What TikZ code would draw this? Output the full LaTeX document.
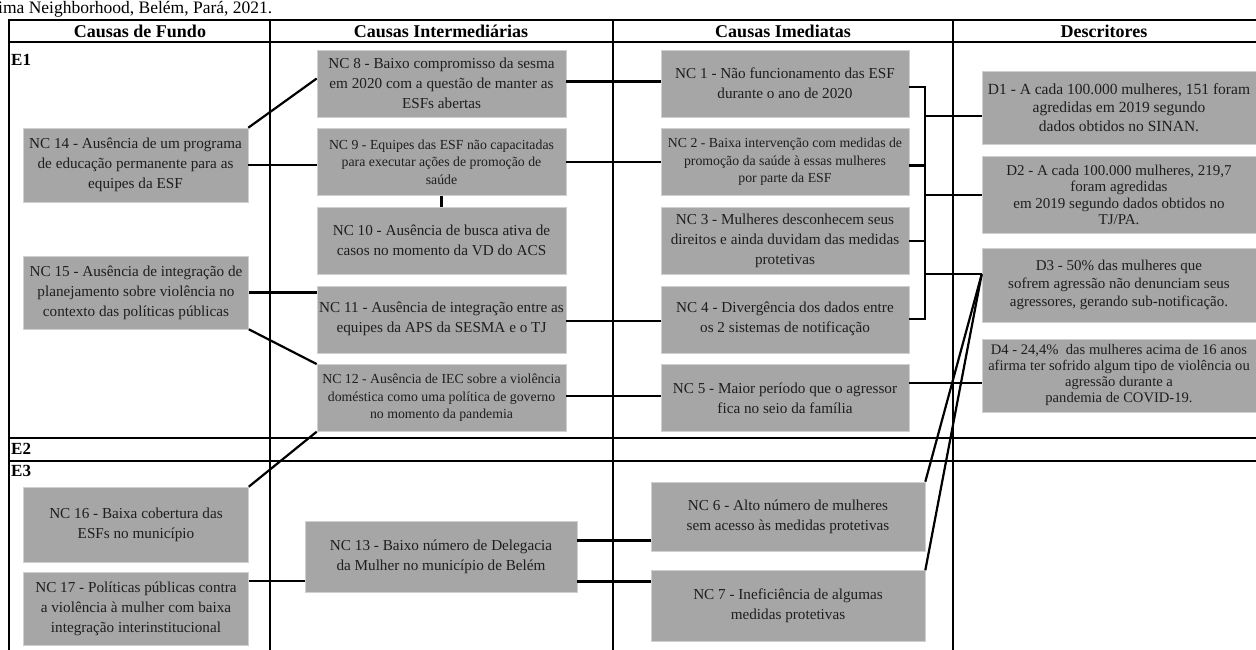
\documentclass[tikz,border=0pt]{standalone}
\usepackage{fontspec}
\setmainfont{Liberation Serif}
\usepackage{tikz}
\usetikzlibrary{
  positioning,
  calc
}
\usepackage{xcolor}
\definecolor{cinzacaixa}{RGB}{166,166,166}
\definecolor{bordacaixa}{RGB}{208,208,208}
\definecolor{textocaixa}{RGB}{30,30,30}
\tikzset{
  caixa/.style={
    fill=cinzacaixa, draw=bordacaixa, line width=0.6pt,
    inner sep=0pt, align=center, text=textocaixa,
    font=\fontsize{15.2}{20}\selectfont
  },
  caixa menor/.style={
    font=\fontsize{13.8}{17.5}\selectfont
  },
  caixa estreita/.style={
    font=\fontsize{15.2}{20}\selectfont
  },
  fundo/.style={caixa, minimum width=225pt},
  interm/.style={caixa, minimum width=249pt, minimum height=67pt},
  imed/.style={caixa, minimum width=248pt, minimum height=67pt},
  descritor/.style={caixa, minimum width=274pt},
  conector/.style={
    line width=2.2pt, draw=black
  },
  grade/.style={
    line width=2.6pt, draw=black
  },
  cabecalho/.style={
    font=\fontsize{18}{20}\selectfont\bfseries, inner sep=0pt
  },
  etapa/.style={
    anchor=west, font=\fontsize{17}{18}\selectfont\bfseries, inner sep=0pt
  },
}

\begin{document}
\begin{tikzpicture}[x=1pt, y=-1pt, node distance=11pt]

  \useasboundingbox (0,0) rectangle (1256,650);

  % legenda cortada no topo
  \node[anchor=base west, inner sep=0pt, font=\fontsize{17.5}{20}\selectfont]
    (titulo) at (-2,14) {ima Neighborhood, Belém, Pará, 2021.};

  % grade da tabela
  \draw[grade] (8,20) -- (1256,20);
  \draw[grade] (8,42) -- (1256,42);
  \draw[grade] (8,438) -- (1256,438);
  \draw[grade] (8,461) -- (1256,461);
  \foreach \x in {9,270,613,953}
    \draw[grade] (\x,20) -- (\x,650);

  \node[cabecalho] (hfundo)  at (140,31)  {Causas de Fundo};
  \node[cabecalho] (hinterm) at (441,31)  {Causas Intermediárias};
  \node[cabecalho] (himed)   at (783,31)  {Causas Imediatas};
  \node[cabecalho] (hdesc)   at (1104,31) {Descritores};

  \node[etapa] (e1) at (11,60)  {E1};
  \node[etapa] (e2) at (11,449) {E2};
  \node[etapa] (e3) at (11,471) {E3};

  % causas de fundo
  \node[fundo, minimum height=74pt] (NC14) at (135.5,165)
    {NC 14 - Ausência de um programa\\de educação permanente para as\\equipes da ESF};
  \node[fundo, minimum height=73pt] (NC15) at (136,292.5)
    {NC 15 - Ausência de integração de\\planejamento sobre violência no\\contexto das políticas públicas};
  \node[fundo, caixa estreita, minimum height=75pt] (NC16) at (136,524.5)
    {NC 16 - Baixa cobertura das\\ESFs no município};
  \node[fundo, caixa estreita, minimum height=73pt, below=10pt of NC16] (NC17)
    {NC 17 - Políticas públicas contra\\a violência à mulher com baixa\\integração interinstitucional};

  % causas intermediarias
  \node[interm] (NC8) at (441.5,83.5)
    {NC 8 - Baixo compromisso da sesma\\em 2020 com a questão de manter as\\ESFs abertas};
  \node[interm, caixa menor, below=of NC8] (NC9)
    {NC 9 - Equipes das ESF não capacitadas\\para executar ações de promoção de\\saúde};
  \node[interm, below=of NC9] (NC10)
    {NC 10 - Ausência de busca ativa de\\casos no momento da VD do ACS};
  \node[interm, below=of NC10] (NC11)
    {NC 11 - Ausência de integração entre as\\equipes da APS da SESMA e o TJ};
  \node[interm, caixa menor, below=of NC11] (NC12)
    {NC 12 - Ausência de IEC sobre a violência\\doméstica como uma política de governo\\no momento da pandemia};
  \node[caixa, caixa estreita, minimum width=272pt, minimum height=71pt] (NC13) at (441,556.5)
    {NC 13 - Baixo número de Delegacia\\da Mulher no município de Belém};

  % causas imediatas
  \node[imed] (NC1) at (785,83.5)
    {NC 1 - Não funcionamento das ESF\\durante o ano de 2020};
  \node[imed, caixa menor, below=of NC1] (NC2)
    {NC 2 - Baixa intervenção com medidas de\\promoção da saúde à essas mulheres\\por parte da ESF};
  \node[imed, below=of NC2] (NC3)
    {NC 3 - Mulheres desconhecem seus\\direitos e ainda duvidam das medidas\\protetivas};
  \node[imed, below=of NC3] (NC4)
    {NC 4 - Divergência dos dados entre\\os 2 sistemas de notificação};
  \node[imed, below=of NC4] (NC5)
    {NC 5 - Maior período que o agressor\\fica no seio da família};
  \node[caixa, caixa estreita, minimum width=274pt, minimum height=69pt] (NC6) at (788,516.5)
    {NC 6 - Alto número de mulheres\\sem acesso às medidas protetivas};
  \node[caixa, caixa estreita, minimum width=274pt, minimum height=71pt, below=19pt of NC6] (NC7)
    {NC 7 - Ineficiência de algumas\\medidas protetivas};

  % descritores
  \node[descritor, minimum height=73pt,
        font=\fontsize{15.5}{18.5}\selectfont] (D1) at (1119,107.5)
    {D1 - A cada 100.000 mulheres, 151 foram\\agredidas em 2019 segundo\\dados obtidos no SINAN.};
  \node[descritor, minimum height=77pt, below=12pt of D1,
        font=\fontsize{15}{16.5}\selectfont] (D2)
    {D2 - A cada 100.000 mulheres, 219,7\\foram agredidas\\em 2019 segundo dados obtidos no\\TJ/PA.};
  \node[descritor, minimum height=74pt, below=14pt of D2,
        font=\fontsize{15}{18}\selectfont] (D3)
    {D3 - 50\% das mulheres que\\sofrem agressão não denunciam seus\\agressores, gerando sub-notificação.};
  \node[descritor, minimum height=73pt, below=16pt of D3,
        font=\fontsize{14.6}{16}\selectfont] (D4)
    {D4 - 24,4\%~ das mulheres acima de 16 anos\\afirma ter sofrido algum tipo de violência ou\\agressão durante a\\pandemia de COVID-19.};

  % ligacoes fundo -> intermediarias
  \draw[conector] (NC14.north east) -- ([yshift=5pt]NC8.west);
  \draw[conector] (NC14.east) -- (NC14.east -| NC9.west);
  \draw[conector] (NC15.east) -- (NC15.east -| NC11.west);
  \draw[conector] (NC15.south east) -- (NC12.north west);
  \draw[conector] (NC16.north east) -- (NC12.south west);
  \draw[conector] ([yshift=-9pt]NC17.north east) -- ([yshift=-9pt]NC17.north east -| NC13.west);
  \draw[conector] (NC9.south) -- (NC10.north);

  % intermediarias -> imediatas
  \draw[conector] ([yshift=2pt]NC8.east) -- ([yshift=2pt]NC1.west);
  \draw[conector] (NC9.east) -- (NC2.west);
  \draw[conector] ([yshift=-1.5pt]NC11.east) -- ([yshift=-1.5pt]NC4.west);
  \draw[conector] ([yshift=2pt]NC12.east) -- ([yshift=2pt]NC5.west);
  \draw[conector] ([yshift=16pt]NC13.east) -- ([yshift=16pt]NC13.east -| NC6.west);
  \draw[conector] ([yshift=-25pt]NC13.east) -- ([yshift=-25pt]NC13.east -| NC7.west);

  % imediatas -> descritores
  \coordinate (barra) at (925,0);
  \draw[conector] ([yshift=-3.5pt]NC1.east) -| (barra |- NC4.east) -- (NC4.east);
  \draw[conector] ([yshift=-3.5pt]NC2.east) -- ([yshift=-3.5pt]NC2.east -| barra);
  \draw[conector] (NC3.east) -- (NC3.east -| barra);
  \draw[conector] ([yshift=-8.5pt]D1.west) -- ([yshift=-8.5pt]D1.west -| barra);
  \draw[conector] (D2.west) -- (D2.west -| barra);
  \coordinate (d3ponta) at ([yshift=11pt]D3.west);
  \draw[conector] (d3ponta) -- (d3ponta -| barra);
  \draw[conector] (NC6.north east) -- (d3ponta);
  \draw[conector] (NC7.north east) -- (d3ponta);
  \draw[conector] ([yshift=15pt]NC5.east) -- ([yshift=15pt]NC5.east -| D4.west);

\end{tikzpicture}
\end{document}
